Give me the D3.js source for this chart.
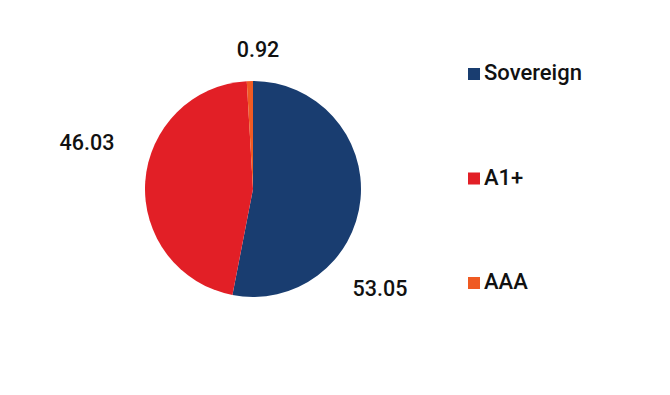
<!DOCTYPE html>
<html>
<head>
<meta charset="utf-8">
<script src="https://cdn.jsdelivr.net/npm/d3@7"></script>
<style>
  body { margin: 0; background: #fff; }
  text { font-family: Roboto, sans-serif; font-weight: 500; }
</style>
</head>
<body>
<svg id="chart" width="670" height="395"></svg>
<script>
// Rating split
let categories = ["Sovereign", "A1+", "AAA"];
let values = [53.05, 46.03, 0.92];
let colors = ["#193d70", "#e21f26", "#ef5a22"];
// label spots, relative to the pie centre
let labelSpots = [[127, 107], [-166, -39], [5, -132]];

let svg = d3.select("#chart");
let cx = 253, cy = 189, radius = 108;

let pie = d3.pie().sort(null).value(d => d.value);
let arc = d3.arc().innerRadius(0).outerRadius(radius);

let data = categories.map((c, i) => ({ name: c, value: values[i], color: colors[i], spot: labelSpots[i] }));

let g = svg.append("g").attr("transform", "translate(" + cx + "," + cy + ")");

g.selectAll("path")
    .data(pie(data))
    .enter().append("path")
    .attr("d", arc)
    .attr("fill", d => d.data.color);

g.selectAll("text.val")
    .data(data)
    .enter().append("text")
    .attr("class", "val")
    .attr("x", d => d.spot[0])
    .attr("y", d => d.spot[1])
    .attr("text-anchor", "middle")
    .attr("font-size", 21.5)
    .attr("fill", "#111")
    .text(d => d.value.toFixed(2));

let legendY = d3.scalePoint().domain(categories).range([80, 289]);

let legend = svg.append("g").selectAll("g")
    .data(data)
    .enter().append("g")
    .attr("transform", d => "translate(468," + legendY(d.name) + ")");

legend.append("rect")
    .attr("x", 0)
    .attr("y", -12)
    .attr("width", 12)
    .attr("height", 12)
    .attr("fill", d => d.color);

legend.append("text")
    .attr("x", 16)
    .attr("y", 0)
    .attr("font-size", 22)
    .attr("fill", "#111")
    .text(d => d.name);
</script>
</body>
</html>
